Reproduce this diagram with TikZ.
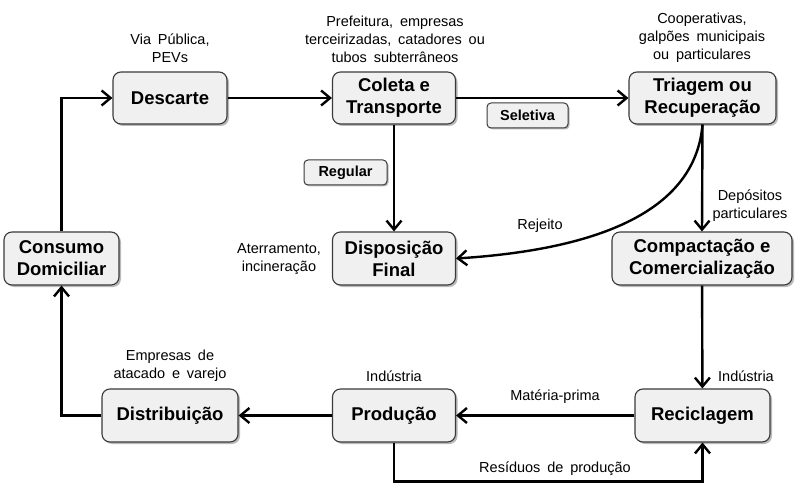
\documentclass[tikz,border=0pt]{standalone}
\usepackage{fontspec}
\setmainfont{Liberation Sans}
\newfontfamily\notefont[WordSpace=1.7]{Liberation Sans}
\usetikzlibrary{arrows.meta,shadows}
\definecolor{boxfill}{HTML}{F0F0F0}
\definecolor{boxline}{HTML}{3A3A3A}
\tikzset{
  mainbox/.style={draw=boxline, line width=1.1pt, fill=boxfill, rounded corners=8pt,
    drop shadow={shadow xshift=2pt, shadow yshift=-2pt, fill=black!45, opacity=0.6},
    align=center, font=\fontsize{18.5}{22}\selectfont\bfseries, inner sep=0pt},
  tagbox/.style={draw=boxline, line width=1pt, fill=boxfill, rounded corners=4pt,
    drop shadow={shadow xshift=1.5pt, shadow yshift=-1.5pt, fill=black!45, opacity=0.6},
    align=center, font=\fontsize{14.5}{17}\selectfont\bfseries, inner sep=0pt},
  note/.style={align=center, font=\notefont\fontsize{14.5}{18}\selectfont, inner sep=0pt},
  arr/.style={line width=2.4pt, -{Straight Barb[length=9pt,width=15pt,line width=2.4pt]}},
}
\begin{document}
\begin{tikzpicture}[x=1pt,y=-1pt]
\useasboundingbox[fill=white] (0,0) rectangle (800,486);
% boxes
\node[mainbox, minimum width=114pt, minimum height=52pt] (desc) at (170,98) {Descarte};
\node[mainbox, minimum width=123pt, minimum height=52pt] (coleta) at (394,98) {Coleta e\\Transporte};
\node[mainbox, minimum width=147pt, minimum height=52pt] (triagem) at (702.5,98) {Triagem ou\\Recuperação};
\node[mainbox, minimum width=115pt, minimum height=53pt] (consumo) at (61.5,258.5) {Consumo\\Domiciliar};
\node[mainbox, minimum width=123pt, minimum height=53pt] (disp) at (394,258.5) {Disposição\\Final};
\node[mainbox, minimum width=180pt, minimum height=53pt] (comp) at (702,258.5) {Compactação e\\Comercialização};
\node[mainbox, minimum width=136pt, minimum height=53pt] (dist) at (170,415.5) {Distribuição};
\node[mainbox, minimum width=123pt, minimum height=53pt] (prod) at (394,415.5) {Produção};
\node[mainbox, minimum width=135pt, minimum height=53pt] (recic) at (702.5,415.5) {Reciclagem};
\node[tagbox, minimum width=81pt, minimum height=25pt] (sel) at (527.5,115.5) {Seletiva};
\node[tagbox, minimum width=83pt, minimum height=25pt] (reg) at (345.5,172.5) {Regular};
% notes
\node[note] (n1) at (170,48) {Via Pública,\\PEVs};
\node[note] (n2) at (395,39) {Prefeitura, empresas\\terceirizadas, catadores ou\\tubos subterrâneos};
\node[note] (n3) at (702,38) {Cooperativas,\\galpões municipais\\ou particulares};
\node[note] (n4) at (279,259) {Aterramento,\\incineração};
\node[note] (n5) at (540,226) {Rejeito};
\node[note] (n6) at (750,206) {Depósitos\\particulares};
\node[note] (n7) at (170,366) {Empresas de\\atacado e varejo};
\node[note] (n8) at (394,376) {Indústria};
\node[note] (n9) at (746,376) {Indústria};
\node[note] (n10) at (555,397) {Matéria-prima};
\node[note] (n11) at (555,469) {Resíduos de produção};
% connectors
\draw[arr] (consumo.north) |- (desc.west);
\draw[arr] (desc) -- (coleta);
\draw[arr] (coleta) -- (triagem);
\draw[arr] (coleta.south) -- (disp.north);
\draw[arr] (triagem.south) -- (comp.north);
\draw[arr] (triagem.south) .. controls (695,215) and (590,250) .. (disp.east);
\draw[arr] (comp) -- (recic);
\draw[arr] (recic) -- (prod);
\draw[arr] (prod) -- (dist);
\draw[arr] (dist.west) -| (consumo.south);
\draw[arr] (prod.south) -- ++(0,39) -| (recic.south);
\end{tikzpicture}
\end{document}
